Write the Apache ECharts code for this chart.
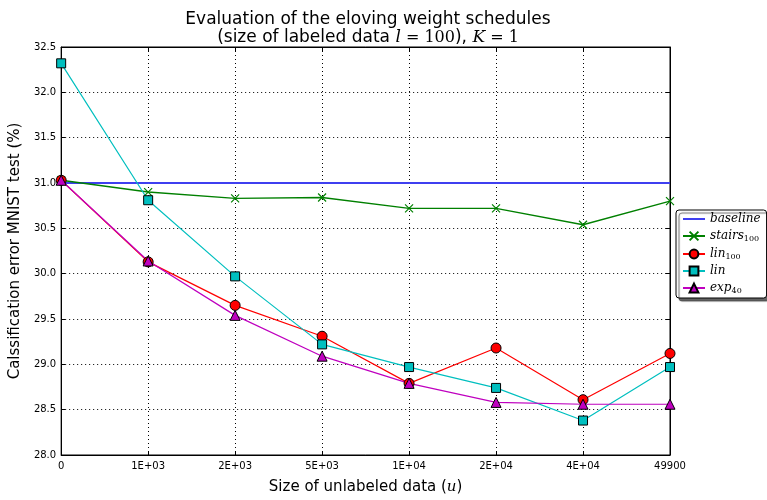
<!DOCTYPE html>
<html>
<head>
<meta charset="utf-8">
<script src="https://cdn.jsdelivr.net/npm/echarts@6/dist/echarts.min.js"></script>
<style>html,body{margin:0;padding:0;background:#fff}#c{width:767px;height:500px}</style>
</head>
<body>
<div id="c"></div>
<script>
const categories = ['0', '1E+03', '2E+03', '5E+03', '1E+04', '2E+04', '4E+04', '49900'];
const baseline = [31.0, 31.0, 31.0, 31.0, 31.0, 31.0, 31.0, 31.0];
const stairs100 = [31.03, 30.90, 30.83, 30.84, 30.72, 30.72, 30.54, 30.80];
const lin100 = [31.03, 30.13, 29.65, 29.31, 28.79, 29.18, 28.61, 29.12];
const lin = [32.32, 30.81, 29.97, 29.22, 28.97, 28.74, 28.38, 28.97];
const exp40 = [31.03, 30.14, 29.54, 29.09, 28.79, 28.58, 28.56, 28.56];
const yTicks = ['28.0', '28.5', '29.0', '29.5', '30.0', '30.5', '31.0', '31.5', '32.0', '32.5'];

const chart = echarts.init(document.getElementById('c'), null, {renderer: 'canvas'});
const SANS = 'DejaVu Sans';
const SERIF = 'DejaVu Serif';
const xPath = 'path://M0,0L10,10M10,0L0,10';

const legendNames = {
  baseline: '{i|baseline}',
  stairs100: '{i|stairs}{s|100}',
  lin100: '{i|lin}{s|100}',
  lin: '{i|lin}',
  exp40: '{i|exp}{s|40}'
};

chart.setOption({
  animation: false,
  backgroundColor: '#fff',
  textStyle: {fontFamily: SANS},
  title: {
    text: 'Evaluation of the eloving weight schedules\n{a|(size of labeled data }{m|l}{r| = 100}{a|), }{m|K}{r| = 1}',
    left: 363,
    textAlign: 'center',
    top: 6,
    textStyle: {
      fontFamily: SANS, fontSize: 17, fontWeight: 'normal', color: '#000', lineHeight: 18,
      rich: {
        a: {fontFamily: SANS, fontSize: 17, color: '#000', lineHeight: 18},
        m: {fontFamily: SERIF, fontStyle: 'italic', fontSize: 17, color: '#000', lineHeight: 18},
        r: {fontFamily: SERIF, fontSize: 16, color: '#000', lineHeight: 18}
      }
    }
  },
  legend: {
    orient: 'vertical',
    left: 676,
    top: 210,
    padding: [3, 6, 3, 6],
    itemWidth: 22,
    itemHeight: 11,
    itemGap: 4,
    backgroundColor: '#fff',
    borderColor: '#000',
    borderWidth: 1,
    borderRadius: 3,
    shadowColor: 'rgba(0,0,0,0.6)',
    shadowBlur: 1,
    shadowOffsetX: 3,
    shadowOffsetY: 3,
    data: [
      {name: 'baseline', itemStyle: {opacity: 0}},
      'stairs100', 'lin100', 'lin', 'exp40'
    ],
    formatter: n => legendNames[n],
    textStyle: {
      color: '#000',
      rich: {
        i: {fontFamily: SERIF, fontStyle: 'italic', fontSize: 12, color: '#000', lineHeight: 13},
        s: {fontFamily: SERIF, fontSize: 8, color: '#000', padding: [6, 0, 0, 0], lineHeight: 9}
      }
    }
  },
  grid: {left: 55, right: 97, top: 47, bottom: 34, show: true, borderColor: '#000', borderWidth: 1, containLabel: false},
  xAxis: [{
    type: 'category',
    data: categories,
    boundaryGap: false,
    name: 'Size of unlabeled data ({u|u})',
    nameLocation: 'middle',
    nameGap: 25,
    nameTextStyle: {fontFamily: SANS, fontSize: 15, color: '#000',
      rich: {u: {fontFamily: SERIF, fontStyle: 'italic', fontSize: 15, color: '#000'}}},
    axisLine: {show: true, lineStyle: {color: '#000', width: 1}},
    axisTick: {show: true, inside: true, length: 4, alignWithLabel: true, lineStyle: {color: '#000'}},
    axisLabel: {fontFamily: SANS, fontSize: 10, color: '#000', margin: 6, interval: 0},
    splitLine: {show: true, interval: 0, lineStyle: {color: '#000', type: [1, 3], width: 1}}
  }, {
    type: 'category',
    data: categories,
    boundaryGap: false,
    position: 'top',
    axisLine: {show: true, lineStyle: {color: '#000', width: 1}},
    axisTick: {show: true, inside: true, length: 4, lineStyle: {color: '#000'}},
    axisLabel: {show: false},
    splitLine: {show: false}
  }],
  yAxis: [{
    type: 'value',
    min: 28, max: 32.5, interval: 0.5,
    name: 'Calssification error MNIST test (%)',
    nameLocation: 'middle',
    nameGap: 29,
    nameTextStyle: {fontFamily: SANS, fontSize: 15, color: '#000'},
    axisLine: {show: true, lineStyle: {color: '#000', width: 1}},
    axisTick: {show: true, inside: true, length: 4, lineStyle: {color: '#000'}},
    axisLabel: {fontFamily: SANS, fontSize: 10, color: '#000', margin: 5,
      formatter: v => yTicks[Math.round((v - 28) / 0.5)] || v.toFixed(1)},
    splitLine: {show: true, lineStyle: {color: '#000', type: [1, 3], width: 1}}
  }, {
    type: 'value',
    min: 28, max: 32.5, interval: 0.5,
    position: 'right',
    axisLine: {show: true, lineStyle: {color: '#000', width: 1}},
    axisTick: {show: true, inside: true, length: 4, lineStyle: {color: '#000'}},
    axisLabel: {show: false},
    splitLine: {show: false}
  }],
  series: [
    {name: 'baseline', type: 'line', data: baseline, showSymbol: false, symbol: 'none',
      lineStyle: {color: '#3f3ff0', width: 2}, itemStyle: {color: '#3f3ff0'}},
    {name: 'stairs100', type: 'line', data: stairs100, symbol: xPath, symbolSize: 8,
      lineStyle: {color: '#008000', width: 1.4},
      itemStyle: {color: 'rgba(0,0,0,0)', borderColor: '#008000', borderWidth: 1.2}},
    {name: 'lin100', type: 'line', data: lin100, symbol: 'circle', symbolSize: 10,
      lineStyle: {color: '#ff0000', width: 1.2},
      itemStyle: {color: '#ff0000', borderColor: '#000', borderWidth: 1}},
    {name: 'lin', type: 'line', data: lin, symbol: 'rect', symbolSize: 9,
      lineStyle: {color: '#00bfbf', width: 1.2},
      itemStyle: {color: '#00bfbf', borderColor: '#000', borderWidth: 1}},
    {name: 'exp40', type: 'line', data: exp40, symbol: 'triangle', symbolSize: 10,
      lineStyle: {color: '#bf00bf', width: 1.2},
      itemStyle: {color: '#bf00bf', borderColor: '#000', borderWidth: 1}}
  ]
});
</script>
</body>
</html>
